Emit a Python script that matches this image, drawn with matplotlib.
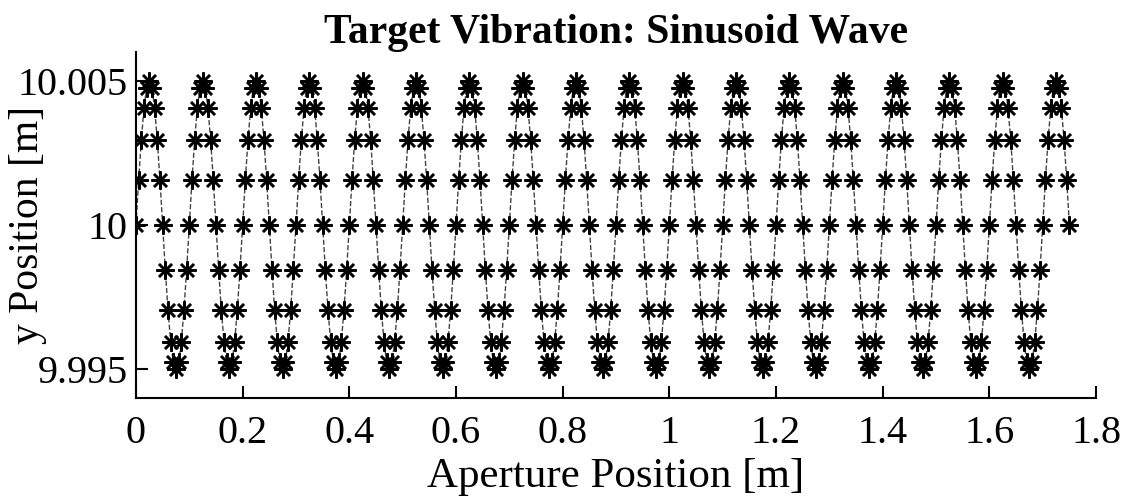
import numpy as np
import matplotlib
matplotlib.use('Agg')
import matplotlib.pyplot as plt

plt.rcParams['font.family'] = 'serif'
plt.rcParams['font.serif'] = ['Liberation Serif', 'DejaVu Serif']

cycle_y = [10.0, 10.00155, 10.00294, 10.00405, 10.00476,
           10.005, 10.00476, 10.00405, 10.00294, 10.00155,
           10.0, 9.99845, 9.99706, 9.99595, 9.99524,
           9.995, 9.99524, 9.99595, 9.99706, 9.99845]
x_step = 0.005       # aperture sample spacing [m]
n_points = 351       # samples from 0 to 1.75 m

x_ticks = [0, 0.2, 0.4, 0.6, 0.8, 1, 1.2, 1.4, 1.6, 1.8]
x_ticklabels = ['0', '0.2', '0.4', '0.6', '0.8', '1', '1.2', '1.4', '1.6', '1.8']
y_ticks = [9.995, 10.0, 10.005]
y_ticklabels = ['9.995', '10', '10.005']

y = np.tile(cycle_y, 18)[:n_points]
x = np.arange(n_points) * x_step

fig = plt.figure(figsize=(11.35, 5.03), dpi=100)
ax = fig.add_axes([0.1198, 0.2087, 0.8459, 0.6879])

ax.plot(x, y, linestyle='--', color='#444444', linewidth=1.0,
        marker=(8, 2, 0), markersize=13, markeredgewidth=1.8,
        markeredgecolor='black', markerfacecolor='black')

ax.set_xlim(0, 1.8)
ax.set_ylim(9.994, 10.006)
ax.set_xticks(x_ticks)
ax.set_xticklabels(x_ticklabels)
ax.set_yticks(y_ticks)
ax.set_yticklabels(y_ticklabels)

ax.spines['top'].set_visible(False)
ax.spines['right'].set_visible(False)
ax.spines['left'].set_linewidth(1.5)
ax.spines['bottom'].set_linewidth(1.5)
ax.tick_params(axis='both', direction='in', length=8.5, width=1.5, labelsize=29)
ax.tick_params(axis='x', pad=12)
ax.tick_params(axis='y', pad=6)

ax.set_title('Target Vibration: Sinusoid Wave', fontsize=30, fontweight='bold', pad=1)
ax.set_xlabel('Aperture Position [m]', fontsize=31, labelpad=4)
ax.set_ylabel('y Position [m]', fontsize=30)
ax.yaxis.set_label_coords(-0.093, 0.5)

fig.savefig('out.png', dpi=100)
